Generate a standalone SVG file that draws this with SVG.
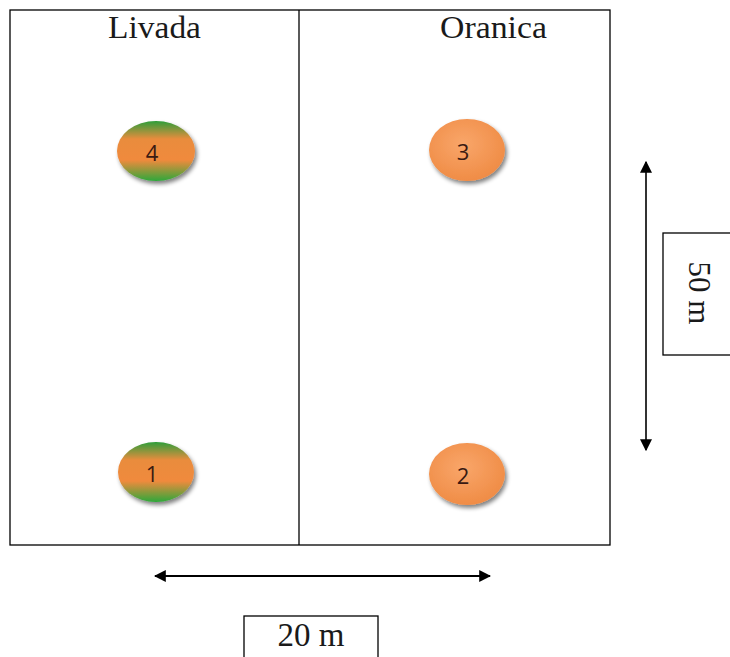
<svg xmlns="http://www.w3.org/2000/svg" width="730" height="657" viewBox="0 0 730 657">
<style>
.ln{stroke:#000;stroke-width:1.3;fill:none}
.lbl{font-family:"Liberation Serif","Times New Roman",serif;font-size:31px;fill:#1a1a1a}
.num{font-family:"Open Sans","Liberation Sans",Arial,sans-serif;font-size:22px;fill:#3a1a12;text-anchor:middle}
.box{fill:#fff;stroke:#000;stroke-width:1.3}
</style>
<defs>
<linearGradient id="gm" x1="0" y1="0" x2="0" y2="1">
<stop offset="0" stop-color="#2e9e3a"/>
<stop offset="0.3" stop-color="#e98c3e"/>
<stop offset="0.65" stop-color="#f08a3c"/>
<stop offset="1" stop-color="#2ea83a"/>
</linearGradient>
<radialGradient id="go" cx="0.45" cy="0.4" r="0.7">
<stop offset="0" stop-color="#f9a66a"/>
<stop offset="1" stop-color="#ee8840"/>
</radialGradient>
<filter id="sh" x="-20%" y="-20%" width="150%" height="150%">
<feGaussianBlur in="SourceAlpha" stdDeviation="2"/>
<feOffset dx="2" dy="3"/>
<feComponentTransfer><feFuncA type="linear" slope="0.5"/></feComponentTransfer>
<feMerge><feMergeNode/><feMergeNode in="SourceGraphic"/></feMerge>
</filter>
<marker id="ah" viewBox="0 0 10 10" refX="9" refY="5" markerWidth="12" markerHeight="12" markerUnits="userSpaceOnUse" orient="auto-start-reverse">
<path d="M0,0 L10,5 L0,10 z" fill="#000"/>
</marker>
</defs>
<g id="field">
<rect x="10" y="10" width="600" height="535" class="ln"/>
<line x1="299" y1="10" x2="299" y2="545" class="ln"/>
<text x="108" y="38" class="lbl" textLength="93" lengthAdjust="spacingAndGlyphs">Livada</text>
<text x="440" y="38" class="lbl" textLength="107" lengthAdjust="spacingAndGlyphs">Oranica</text>
</g>
<g id="n4"><ellipse cx="156" cy="151" rx="39" ry="30" fill="url(#gm)" filter="url(#sh)"/><text x="152" y="161" class="num">4</text></g>
<g id="n3"><ellipse cx="467" cy="150" rx="38" ry="31" fill="url(#go)" filter="url(#sh)"/><text x="463" y="160" class="num">3</text></g>
<g id="n1"><ellipse cx="156" cy="472" rx="38" ry="30" fill="url(#gm)" filter="url(#sh)"/><text x="152" y="482" class="num">1</text></g>
<g id="n2"><ellipse cx="467" cy="474" rx="38" ry="31" fill="url(#go)" filter="url(#sh)"/><text x="463" y="484" class="num">2</text></g>
<g id="connectors">
<line x1="646" y1="162" x2="646" y2="450" stroke="#333" stroke-width="2" marker-start="url(#ah)" marker-end="url(#ah)"/>
<line x1="155" y1="576" x2="490" y2="576" stroke="#000" stroke-width="2" marker-start="url(#ah)" marker-end="url(#ah)"/>
</g>
<g id="dim50">
<rect x="663" y="233" width="70" height="122" class="box"/>
<text transform="translate(689,293) rotate(90)" class="lbl" text-anchor="middle">50 m</text>
</g>
<g id="dim20">
<rect x="244" y="616" width="134" height="50" class="box"/>
<text x="311" y="646" class="lbl" text-anchor="middle" style="font-size:33px">20 m</text>
</g>
</svg>
